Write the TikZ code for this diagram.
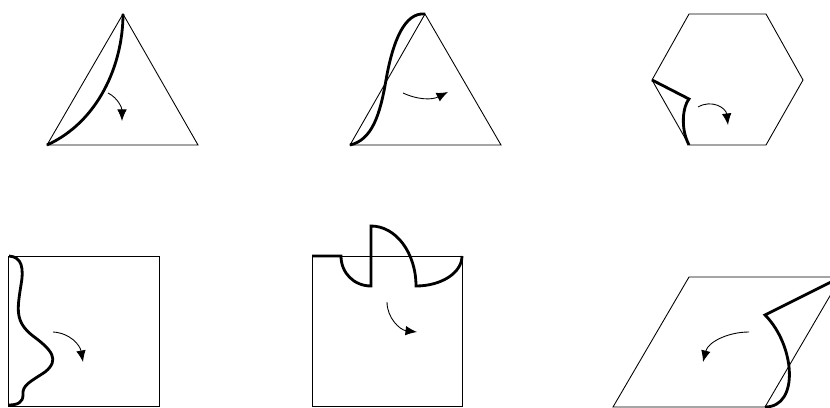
\documentclass[tikz,border=0pt]{standalone}
\usepackage{tikz}
\usetikzlibrary{arrows.meta}

\begin{document}
\begin{tikzpicture}[x=0.02cm,y=-0.02cm,
  ince/.style={line width=0.5pt,line join=miter},
  kalin/.style={line width=1.6pt,line join=miter},
  donus/.style={-{Latex[length=2.3mm,width=1.9mm]},line width=0.5pt}]
\clip (0,0) rectangle (830,408);
% ust sira: ucgen, ucgen, altigen
\draw[ince] (47,145) -- (123,14) -- (198,145) -- cycle;
\draw[kalin] (47,145) .. controls (98,122) and (123,65) .. (123,14);
\draw[donus] (108,93) .. controls (118,98) and (122,108) .. (122,121);

\draw[ince] (350,145) -- (425,14) -- (501,145) -- cycle;
\draw[kalin] (350,145) .. controls (372,140) and (380,115) .. (386,80)
  .. controls (393,40) and (405,12) .. (425,14);
\draw[donus] (403,93) .. controls (418,100) and (432,100) .. (448,92);

\draw[ince] (689,14) -- (766,14) -- (803,80) -- (766,145) -- (689,145) -- (652,80) -- cycle;
\draw[kalin] (652,80) -- (689,99) .. controls (683,106) and (680,128) .. (689,145);
\draw[donus] (698,107) .. controls (712,99) and (726,108) .. (728,125);

% alt sira: kare, kare, paralelkenar
\draw[ince] (8,256) rectangle (159,406);
\draw[kalin] (9,256) .. controls (22,257) and (24,268) .. (21,285)
  .. controls (17,310) and (15,322) .. (33,336)
  .. controls (52,350) and (60,360) .. (45,372)
  .. controls (30,382) and (22,385) .. (23,395)
  .. controls (23,402) and (18,405) .. (9,405);
\draw[donus] (53,332) .. controls (70,333) and (80,345) .. (83,362);

\draw[ince] (312,256) rectangle (462,406);
\draw[kalin] (312,256) -- (341,256) .. controls (341,273) and (354,286) .. (371,286)
  -- (371,226) .. controls (396,226) and (416,253) .. (416,286)
  .. controls (441,286) and (462,273) .. (462,256);
\draw[donus] (387,302) .. controls (387,318) and (400,330) .. (417,332);

\draw[ince] (613,407) -- (765,407) -- (841,277) -- (689,277) -- cycle;
\draw[kalin] (841,277) -- (765,315) .. controls (795,345) and (800,407) .. (765,407);
\draw[donus] (749,332) .. controls (728,332) and (708,342) .. (703,362);
\end{tikzpicture}
\end{document}
